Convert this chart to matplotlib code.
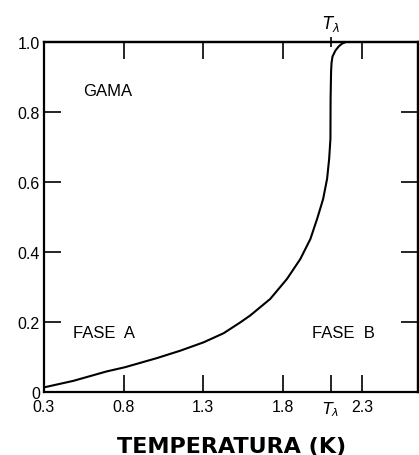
import numpy as np
import matplotlib
matplotlib.use("Agg")
import matplotlib.pyplot as plt

plt.rcParams['font.family'] = ['Liberation Sans', 'DejaVu Sans']

# curve
temp = [0.306, 0.484, 0.694, 0.809, 1.009, 1.155, 1.302, 1.428, 1.533,
        1.596, 1.721, 1.826, 1.910, 1.973, 2.015, 2.053, 2.078, 2.091,
        2.099, 2.10, 2.103, 2.106, 2.112, 2.13, 2.151, 2.172, 2.193]
frac = [0.014, 0.032, 0.059, 0.071, 0.097, 0.118, 0.142, 0.168, 0.199,
        0.219, 0.266, 0.323, 0.380, 0.437, 0.494, 0.551, 0.609, 0.666,
        0.723, 0.837, 0.915, 0.94, 0.958, 0.975, 0.987, 0.995, 0.999]

x_ticks = [0.3, 0.8, 1.3, 1.8, 2.1, 2.3]
x_labels = ['0.3', '0.8', '1.3', '1.8', r'$T_\lambda$', '2.3']
y_ticks = [0, 0.2, 0.4, 0.6, 0.8, 1.0]
y_labels = ['0', '0.2', '0.4', '0.6', '0.8', '1.0']
t_lambda = 2.1

fig = plt.figure(figsize=(4.19, 4.56), dpi=100)
ax = fig.add_axes([0.105, 0.138, 0.893, 0.768])

ax.plot(temp, frac, color='black', lw=1.5)

ax.set_xlim(0.3, 2.65)
ax.set_ylim(0, 1.0)

ax.set_xticks(x_ticks, x_labels)
ax.set_yticks(y_ticks, y_labels)
ax.tick_params(direction='in', length=12, width=1.2, labelsize=11.5, pad=5)
ax.tick_params(axis='y', pad=3)
for s in ax.spines.values():
    s.set_linewidth(1.6)

# top ticks
top = ax.secondary_xaxis('top')
top.set_xticks([0.8, 1.3, 1.8, 2.3], ['', '', '', ''])
top.set_xticks([t_lambda], [r'$T_\lambda$'], minor=True)
top.tick_params(which='major', direction='in', length=12, width=1.2)
top.tick_params(which='minor', direction='inout', length=7, width=1.2,
                labelsize=12, pad=3)
top.spines['top'].set_linewidth(1.6)

# right ticks
right = ax.secondary_yaxis('right')
right.set_yticks([0.2, 0.4, 0.6, 0.8], ['', '', '', ''])
right.tick_params(direction='in', length=12, width=1.2)
right.spines['right'].set_linewidth(1.6)

ax.text(0.70, 0.86, 'GAMA', fontsize=12, ha='center', va='center')
ax.text(0.68, 0.17, 'FASE  A', fontsize=12, ha='center', va='center')
ax.text(2.18, 0.17, 'FASE  B', fontsize=12, ha='center', va='center')

ax.set_xlabel('TEMPERATURA (K)', fontsize=16, fontweight='bold',
              family=['DejaVu Sans'], labelpad=13)

fig.savefig('out.png', dpi=100)
